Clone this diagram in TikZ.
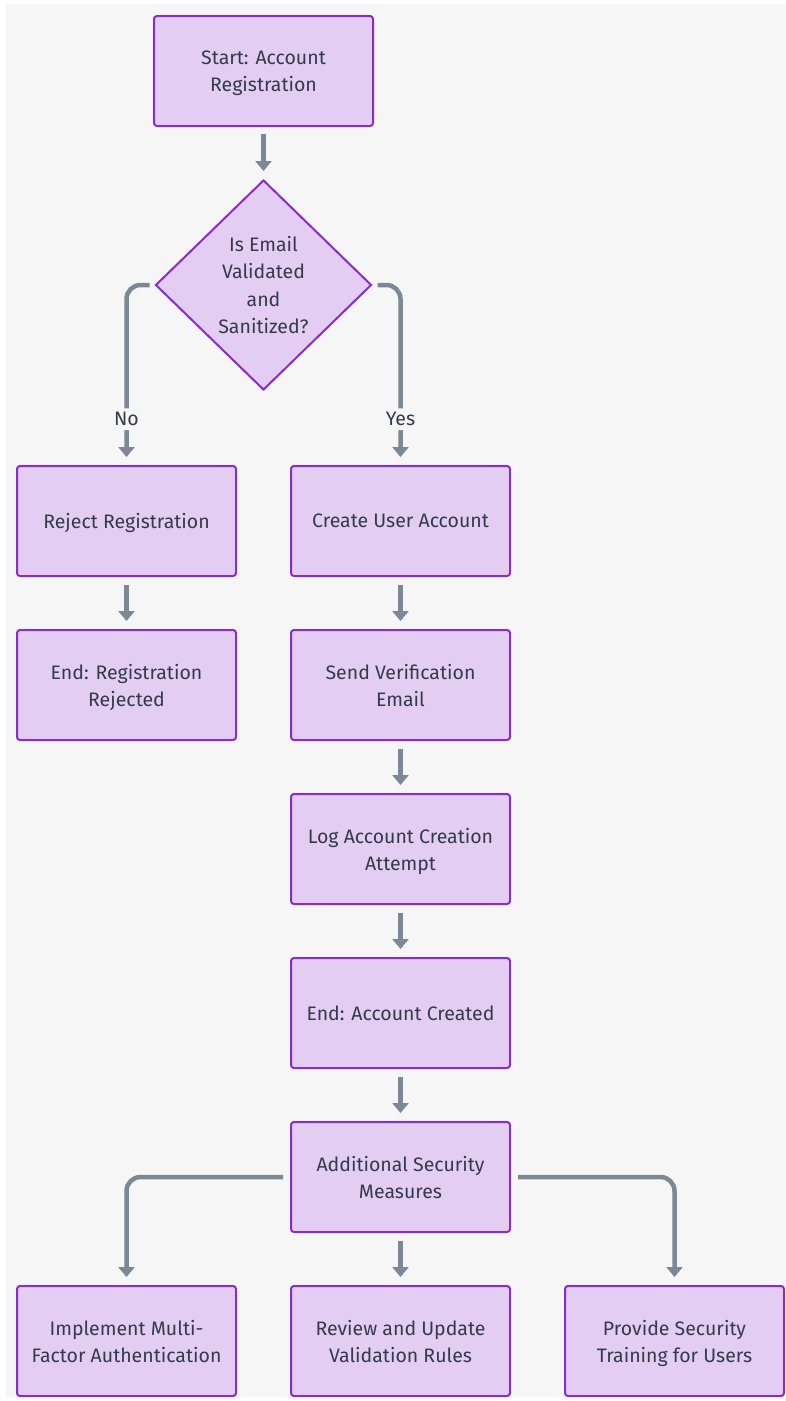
\documentclass[tikz,border=0pt]{standalone}
\usepackage{fontspec}
\setmainfont{Fira Sans}
\usetikzlibrary{arrows.meta,shapes.geometric}
\definecolor{pagebg}{HTML}{F6F6F6}
\definecolor{boxfill}{HTML}{E4CDF3}
\definecolor{boxline}{HTML}{8A2BD0}
\definecolor{linkcol}{HTML}{7B8895}
\definecolor{txt}{HTML}{333B49}
\tikzset{
  x=1pt, y=-1pt,
  stepbox/.style={draw=boxline, fill=boxfill, line width=2pt, rounded corners=3pt,
    minimum width=219pt, minimum height=110pt, inner sep=0pt, text depth=0pt,
    align=center, text=txt, font=\fontsize{19.5}{27}\selectfont},
  decision/.style={draw=boxline, fill=boxfill, line width=2pt, diamond,
    minimum width=216pt, minimum height=210pt, inner sep=0pt, aspect=1.03,
    align=center, text=txt, font=\fontsize{19.5}{27.5}\selectfont},
  link/.style={draw=linkcol, line width=4.5pt, rounded corners=14pt,
    -{Triangle[width=16pt,length=10pt]}},
  edgelabel/.style={fill=pagebg, text=txt, inner sep=4pt, font=\fontsize{19.5}{22}\selectfont},
}
\begin{document}
\begin{tikzpicture}
  % page background
  \fill[white] (0,0) rectangle (786,1401);
  \fill[pagebg] (6,4) rectangle (786,1397);
  \useasboundingbox (0,0) rectangle (786,1401);

  % nodes
  \node[stepbox] (start) at (263.5,71) {Start: Account\\Registration};
  \node[decision] (check) at (263.5,285) {Is Email\\Validated\\and\\Sanitized?};
  \node[stepbox] (reject) at (126.5,521) {Reject Registration};
  \node[stepbox] (create) at (400.5,521) {Create User Account};
  \node[stepbox] (endrej) at (126.5,685) {End: Registration\\Rejected};
  \node[stepbox] (verify) at (400.5,685) {Send Verification\\Email};
  \node[stepbox] (log) at (400.5,849) {Log Account Creation\\Attempt};
  \node[stepbox] (done) at (400.5,1013) {End: Account Created};
  \node[stepbox] (extra) at (400.5,1177) {Additional Security\\Measures};
  \node[stepbox] (mfa) at (126.5,1341) {Implement Multi-\\Factor Authentication};
  \node[stepbox] (rules) at (400.5,1341) {Review and Update\\Validation Rules};
  \node[stepbox] (train) at (674.5,1341) {Provide Security\\Training for Users};

  % start points of the branching connectors
  \coordinate (noleft) at ([xshift=-5pt]check.west);
  \coordinate (yesright) at ([xshift=5pt]check.east);
  \coordinate (mfaleft) at ([xshift=-7pt]extra.west);
  \coordinate (trainright) at ([xshift=7pt]extra.east);

  % connectors
  \draw[link] ([yshift=-7pt]start.south) -- ([yshift=8pt]check.north);
  \draw[link] (noleft) -| ([yshift=8pt]reject.north)
    node[edgelabel, pos=0.89] (nolabel) {No};
  \draw[link] (yesright) -| ([yshift=8pt]create.north)
    node[edgelabel, pos=0.89] (yeslabel) {Yes};
  \draw[link] ([yshift=-8pt]reject.south) -- ([yshift=8pt]endrej.north);
  \draw[link] ([yshift=-8pt]create.south) -- ([yshift=8pt]verify.north);
  \draw[link] ([yshift=-8pt]verify.south) -- ([yshift=8pt]log.north);
  \draw[link] ([yshift=-8pt]log.south) -- ([yshift=8pt]done.north);
  \draw[link] ([yshift=-8pt]done.south) -- ([yshift=8pt]extra.north);
  \draw[link] (mfaleft) -| ([yshift=8pt]mfa.north);
  \draw[link] ([yshift=-8pt]extra.south) -- ([yshift=8pt]rules.north);
  \draw[link] (trainright) -| ([yshift=8pt]train.north);
\end{tikzpicture}
\end{document}
